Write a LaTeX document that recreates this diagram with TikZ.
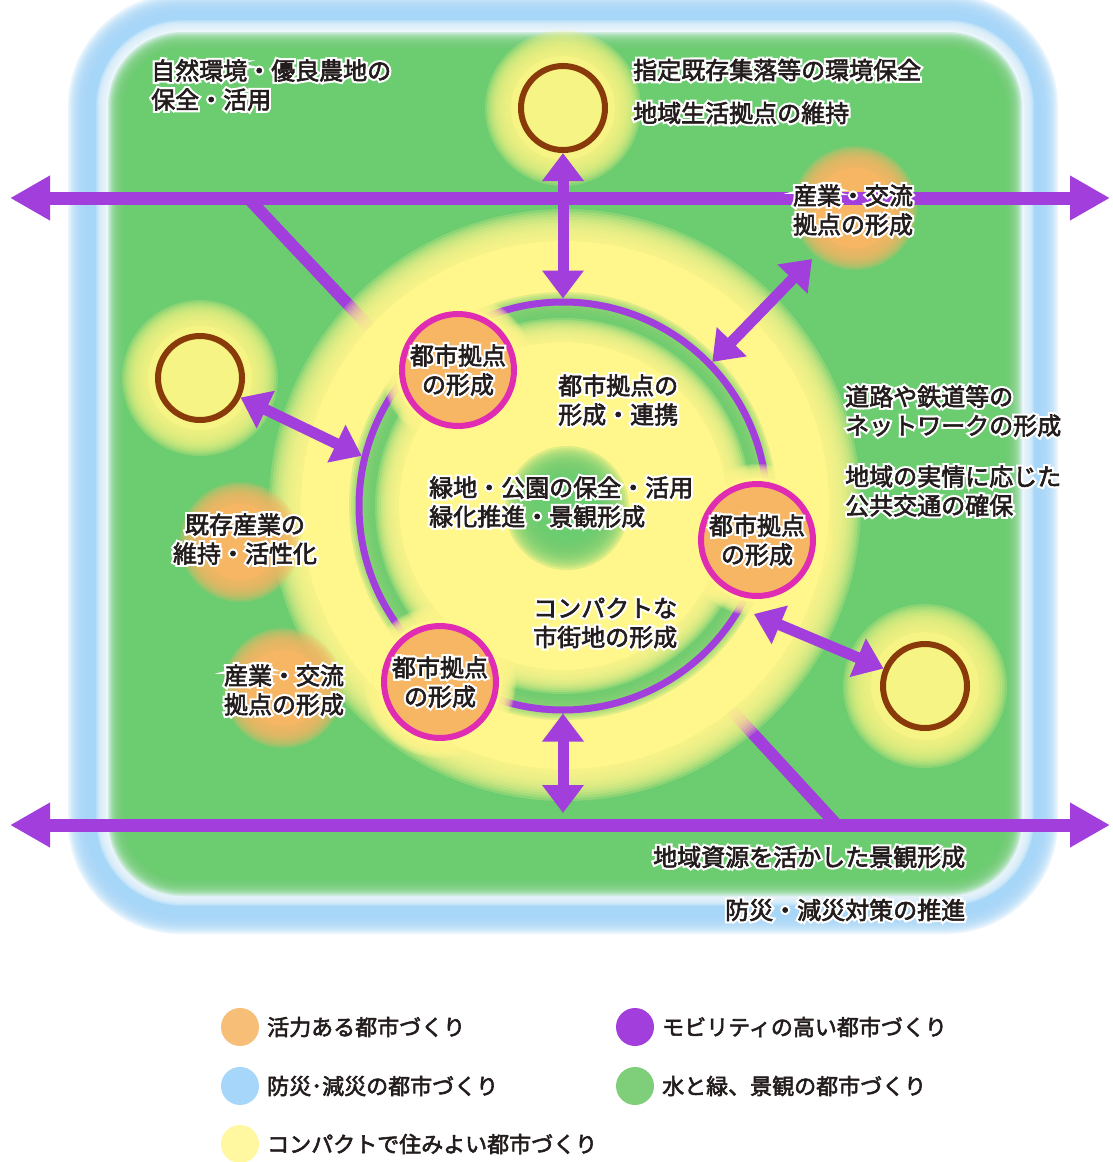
\documentclass[tikz,border=0pt]{standalone}
\usepackage{fontspec}
\setmainfont{Noto Sans CJK JP}[FakeBold=2.5]
\newfontfamily\halofont{Noto Sans CJK JP}[FakeBold=20]
\usetikzlibrary{arrows.meta}
\definecolor{cgreen}{RGB}{108,204,112}
\definecolor{cblue}{RGB}{166,214,248}
\definecolor{cyellow}{RGB}{255,246,140}
\definecolor{cglow}{RGB}{246,244,132}
\definecolor{corange}{RGB}{246,182,100}
\definecolor{cpurple}{RGB}{161,62,220}
\definecolor{cmagenta}{RGB}{224,44,178}
\definecolor{cbrown}{RGB}{136,58,10}
\definecolor{ctext}{RGB}{35,28,28}
\definecolor{lgorange}{RGB}{247,190,120}
\definecolor{lgblue}{RGB}{166,214,250}
\definecolor{lggreen}{RGB}{126,206,122}
\definecolor{lgyellow}{RGB}{255,248,160}
\newcommand\ct[1]{\rlap{\halofont\color{white}#1}#1}
\newcommand\fs{\fontsize{24}{29}\selectfont}
\newcommand\fsl{\fontsize{22}{26}\selectfont}
% soft (blurred) rounded rectangle: color, x1, y1, x2, y2, radius, blur width
\newcommand\softrect[7]{%
  \foreach \k in {0,...,11}{%
    \pgfmathsetmacro\dd{\k*#7/12}%
    \pgfmathsetmacro\rr{#6-\dd}%
    \fill[#1,opacity=0.22,rounded corners=\rr pt] ({#2+\dd},{#3+\dd}) rectangle ({#4-\dd},{#5-\dd});
  }%
  \pgfmathsetmacro\rr{#6-#7}%
  \fill[#1,rounded corners=\rr pt] ({#2+#7},{#3+#7}) rectangle ({#4-#7},{#5-#7});
}
% soft disc: color, x, y, outer radius, blur width
\newcommand\softdisc[5]{%
  \foreach \k in {0,...,11}{%
    \pgfmathsetmacro\rr{#4-\k*#5/12}%
    \fill[#1,opacity=0.22] (#2,#3) circle (\rr);
  }%
  \pgfmathsetmacro\rr{#4-#5}%
  \fill[#1] (#2,#3) circle (\rr);
}
\begin{document}
\begin{tikzpicture}[x=1pt,y=-1pt,
  mline/.style={cpurple,line width=13pt,{Triangle[length=40pt,width=42pt]}-{Triangle[length=40pt,width=42pt]}},
  darrow/.style={cpurple,line width=11pt,{Triangle[length=28pt,width=40pt]}-{Triangle[length=28pt,width=40pt]}},
  diag/.style={cpurple,line width=12pt},
  ring/.style={circle,draw=cbrown,line width=6pt,fill=cglow,minimum size=84pt,inner sep=0pt},
  hub/.style={circle,draw=cmagenta,line width=6pt,fill=corange,minimum size=112pt,inner sep=0pt,font=\fs,align=center,text=ctext},
  lbl/.style={font=\fs,text=ctext,inner sep=0pt},
  legdot/.style={circle,minimum size=38pt,inner sep=0pt},
  legtxt/.style={anchor=west,font=\fsl,text=ctext,inner sep=0pt}
]
\useasboundingbox (0,0) rectangle (1112,1162);
\fill[white] (0,0) rectangle (1112,1162);

% background bands
\softrect{cblue}{68}{-6}{1058}{934}{112}{20}
\softrect{cblue!22!white}{96}{20}{1034}{906}{86}{10}
\softrect{cgreen}{108}{32}{1022}{896}{74}{16}

% diagonal branches (fade into the yellow area)
\coordinate (dTL) at (248,198);
\coordinate (dTLe) at (375,333);
\coordinate (dBR) at (837,825);
\coordinate (dBRe) at (722,700);
\draw[diag] (dTL) -- (dTLe);
\draw[diag] (dBR) -- (dBRe);

% compact city area
\softdisc{cyellow}{565}{505}{296}{32}
\softdisc{cgreen}{563}{506}{214}{26}
\softdisc{cyellow}{563}{506}{188}{24}
\softdisc{cgreen}{567}{508}{62}{28}

% purple ring
\node[circle,draw=cpurple,line width=7pt,minimum size=408pt,inner sep=0pt] (pc) at (563,506) {};

% glows around outlying settlements and industry blobs
\softdisc{cglow}{563}{108}{78}{26}
\softdisc{cglow}{200}{378}{78}{26}
\softdisc{cglow}{925}{686}{82}{28}
\softdisc{corange}{855}{208}{62}{22}
\softdisc{corange}{240}{542}{60}{22}
\softdisc{corange}{283}{688}{60}{22}
\softdisc{cyellow}{458}{370}{76}{14}
\softdisc{cyellow}{757}{540}{76}{14}
\softdisc{cyellow}{440}{682}{76}{14}

% main transport axes
\coordinate (hTL) at (10,198);
\coordinate (hTR) at (1110,198);
\coordinate (hBL) at (10,825);
\coordinate (hBR) at (1110,825);
\draw[mline] (hTL) -- (hTR);
\draw[mline] (hBL) -- (hBR);

% rings and hubs
\node[ring] (ringT) at (563,108) {};
\node[ring] (ringL) at (200,378) {};
\node[ring] (ringR) at (925,686) {};
\node[hub] (hubA) at (458,370) {\ct{都市拠点}\\\ct{の形成}};
\node[hub] (hubB) at (757,540) {\ct{都市拠点}\\\ct{の形成}};
\node[hub] (hubC) at (440,682) {\ct{都市拠点}\\\ct{の形成}};

% connecting double arrows
\coordinate (hb) at (563,813);
\coordinate (aTR) at (812,259);
\coordinate (aBR) at (754,614);
\draw[darrow] (ringT) -- (pc.north);
\draw[darrow] (pc.south) -- (hb);
\draw[darrow] (ringL) -- (pc.166);
\draw[darrow] (pc.44) -- (aTR);
\draw[darrow] (aBR) -- (ringR);

% labels
\node[lbl,anchor=west,align=left] (t1) at (151,85) {\ct{自然環境・優良農地の}\\\ct{保全・活用}};
\node[lbl,anchor=west] (t2) at (633,70) {\ct{指定既存集落等の環境保全}};
\node[lbl,anchor=west] (t3) at (633,113) {\ct{地域生活拠点の維持}};
\node[lbl,align=center] (t4) at (853,210) {\ct{産業・交流}\\\ct{拠点の形成}};
\node[lbl,anchor=west,align=left] (t5) at (558,400) {\ct{都市拠点の}\\\ct{形成・連携}};
\node[lbl,anchor=west,align=left] (t6) at (429,502) {\ct{緑地・公園の保全・活用}\\\ct{緑化推進・景観形成}};
\node[lbl,anchor=west,align=left] (t7) at (845,411) {\ct{道路や鉄道等の}\\\ct{ネットワークの形成}};
\node[lbl,anchor=west,align=left] (t8) at (845,491) {\ct{地域の実情に応じた}\\\ct{公共交通の確保}};
\node[lbl,align=center] (t9) at (245,539) {\ct{既存産業の}\\\ct{維持・活性化}};
\node[lbl,anchor=west,align=left] (t10) at (533,623) {\ct{コンパクトな}\\\ct{市街地の形成}};
\node[lbl,align=center] (t11) at (284,690) {\ct{産業・交流}\\\ct{拠点の形成}};
\node[lbl,anchor=west] (t12) at (653,857) {\ct{地域資源を活かした景観形成}};
\node[lbl,anchor=west] (t13) at (725,910) {\ct{防災・減災対策の推進}};

% legend
\node[legdot,fill=lgorange] (lg1) at (240,1027) {};
\node[legdot,fill=cpurple] (lg2) at (635,1027) {};
\node[legdot,fill=lgblue] (lg3) at (240,1086) {};
\node[legdot,fill=lggreen] (lg4) at (635,1086) {};
\node[legdot,fill=lgyellow] (lg5) at (240,1144) {};
\node[legtxt] (lt1) at (267,1027) {活力ある都市づくり};
\node[legtxt] (lt2) at (662,1027) {モビリティの高い都市づくり};
\node[legtxt] (lt3) at (267,1086) {防災･減災の都市づくり};
\node[legtxt] (lt4) at (662,1086) {水と緑、景観の都市づくり};
\node[legtxt] (lt5) at (267,1144) {コンパクトで住みよい都市づくり};
\end{tikzpicture}
\end{document}
